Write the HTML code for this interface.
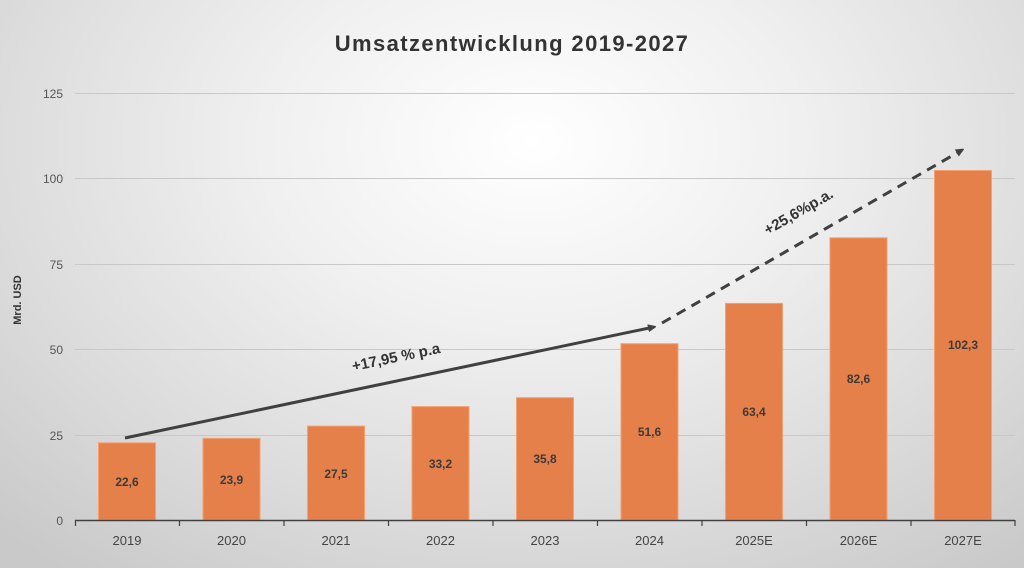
<!DOCTYPE html>
<html><head><style>
html,body{margin:0;padding:0;width:1024px;height:568px;overflow:hidden}
body{background:radial-gradient(ellipse 75% 95% at 52% 25%,#ffffff 0%,#f0f0f0 35%,#d9d9d9 75%,#c9c9c9 100%);font-family:"Liberation Sans",sans-serif}
</style></head><body>
<svg width="1024" height="568" xmlns="http://www.w3.org/2000/svg" font-family="Liberation Sans, sans-serif">
<defs><marker id="a" markerWidth="8" markerHeight="8" refX="6" refY="4" orient="auto" markerUnits="userSpaceOnUse"><path d="M0,0 L9,4 L0,8 Z" fill="#404040"/></marker></defs>
<text x="512" y="51" text-anchor="middle" font-size="22" font-weight="bold" fill="#333" letter-spacing="1.4">Umsatzentwicklung 2019-2027</text>
<g stroke="#c8c8c8" stroke-width="1">
<line x1="75" x2="1015" y1="93.5" y2="93.5"/><line x1="75" x2="1015" y1="178.5" y2="178.5"/><line x1="75" x2="1015" y1="264.5" y2="264.5"/><line x1="75" x2="1015" y1="349.5" y2="349.5"/><line x1="75" x2="1015" y1="435.5" y2="435.5"/>
</g>
<g font-size="12" fill="#555" text-anchor="end">
<text x="63" y="98">125</text><text x="63" y="183">100</text><text x="63" y="269">75</text><text x="63" y="354">50</text><text x="63" y="440">25</text><text x="63" y="525">0</text>
</g>
<text transform="translate(21,300) rotate(-90)" text-anchor="middle" font-size="11" font-weight="bold" fill="#333">Mrd. USD</text>
<g fill="#e6804a" stroke="#f4a070" stroke-width="1">
<rect x="98.5" y="442.8" width="57" height="77.2"/>
<rect x="203" y="438.4" width="57" height="81.6"/>
<rect x="307.5" y="426.1" width="57" height="93.9"/>
<rect x="412" y="406.6" width="57" height="113.4"/>
<rect x="516.5" y="397.7" width="57" height="122.3"/>
<rect x="621" y="343.7" width="57" height="176.3"/>
<rect x="725.5" y="303.4" width="57" height="216.6"/>
<rect x="830" y="237.8" width="57" height="282.2"/>
<rect x="934.5" y="170.5" width="57" height="349.5"/>
</g>
<g font-size="12" font-weight="bold" fill="#3a3a3a" text-anchor="middle">
<text x="127" y="486">22,6</text><text x="231.5" y="484">23,9</text><text x="336" y="478">27,5</text><text x="440.5" y="468">33,2</text><text x="545" y="463">35,8</text><text x="649.5" y="436">51,6</text><text x="754" y="416">63,4</text><text x="858.5" y="383">82,6</text><text x="963" y="349">102,3</text>
</g>
<line x1="75" x2="1015" y1="520.5" y2="520.5" stroke="#404040" stroke-width="1.5"/>
<g stroke="#404040" stroke-width="1.2">
<line x1="75.5" x2="75.5" y1="520" y2="526"/><line x1="179.5" x2="179.5" y1="520" y2="526"/><line x1="284" x2="284" y1="520" y2="526"/><line x1="388.5" x2="388.5" y1="520" y2="526"/><line x1="493" x2="493" y1="520" y2="526"/><line x1="597.5" x2="597.5" y1="520" y2="526"/><line x1="702" x2="702" y1="520" y2="526"/><line x1="806.5" x2="806.5" y1="520" y2="526"/><line x1="911" x2="911" y1="520" y2="526"/><line x1="1015" x2="1015" y1="520" y2="526"/>
</g>
<g font-size="13" fill="#444" text-anchor="middle">
<text x="127" y="545">2019</text><text x="231.5" y="545">2020</text><text x="336" y="545">2021</text><text x="440.5" y="545">2022</text><text x="545" y="545">2023</text><text x="649.5" y="545">2024</text><text x="754" y="545">2025E</text><text x="858.5" y="545">2026E</text><text x="963" y="545">2027E</text>
</g>
<line x1="125" y1="438" x2="654" y2="327" stroke="#404040" stroke-width="3" marker-end="url(#a)"/>
<line x1="662" y1="323" x2="962" y2="150" stroke="#404040" stroke-width="3" stroke-dasharray="10,7" marker-end="url(#a)"/>
<text transform="translate(397,362) rotate(-11.8)" text-anchor="middle" font-size="15" font-weight="bold" fill="#333">+17,95 % p.a</text>
<text transform="translate(801,216) rotate(-30)" text-anchor="middle" font-size="15" font-weight="bold" fill="#333">+25,6%p.a.</text>
</svg>
</body></html>
